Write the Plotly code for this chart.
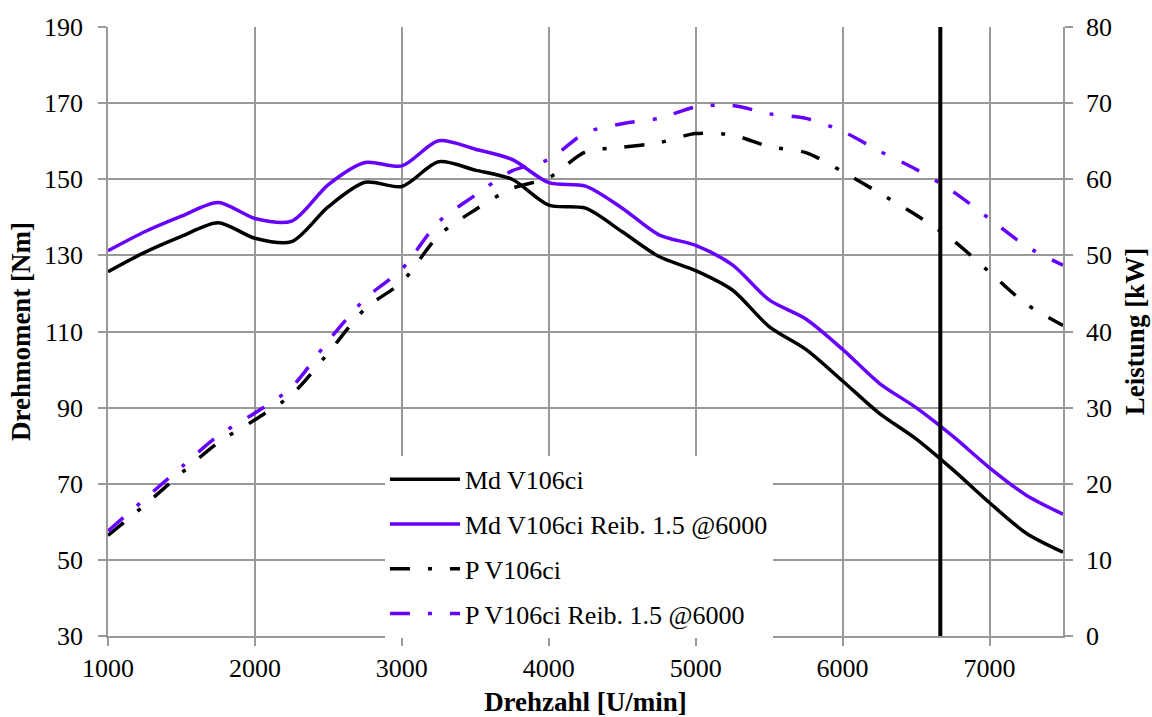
import plotly.graph_objects as go

rpm = [1000, 1250, 1500, 1750, 2000, 2250, 2500, 2750, 3000, 3250, 3500, 3750, 4000,
       4250, 4500, 4750, 5000, 5250, 5500, 5750, 6000, 6250, 6500, 6750, 7000, 7250, 7500]

md_v106 = [125.7, 130.8, 135.0, 138.6, 134.5, 133.6, 142.8, 149.2, 148.1, 154.6, 152.4, 150.0, 143.2,
           142.4, 136.2, 129.7, 126.0, 120.9, 111.3, 105.3, 97.0, 88.5, 81.8, 73.7, 65.0, 57.0, 52.0]
md_reib = [131.2, 136.2, 140.3, 143.9, 139.7, 139.0, 148.6, 154.4, 153.5, 160.1, 157.9, 155.2, 149.1,
           148.2, 142.4, 135.4, 132.6, 127.5, 118.3, 113.3, 105.3, 96.4, 90.0, 82.5, 74.2, 67.0, 62.0]
p_v106 = [13.2, 17.2, 21.4, 25.4, 28.4, 31.7, 37.2, 43.0, 46.5, 52.6, 56.0, 58.8, 60.2,
          63.6, 64.2, 64.8, 66.0, 65.8, 64.3, 63.5, 61.0, 58.2, 55.3, 52.0, 47.8, 43.6, 40.8]
p_reib = [13.8, 18.0, 22.2, 26.3, 29.3, 32.7, 38.8, 44.3, 48.2, 54.4, 57.9, 61.1, 62.6,
          66.1, 67.3, 68.0, 69.5, 69.7, 68.6, 68.0, 66.3, 63.7, 61.3, 58.4, 54.8, 51.2, 48.7]

names = ["Md V106ci", "Md V106ci Reib. 1.5 @6000", "P V106ci", "P V106ci Reib. 1.5 @6000"]
vline_rpm = 6665

BLACK = "#000000"
PURPLE = "#6600FF"
FONT = "Liberation Serif"
DASHDOT = "20px,18px,4px,18px"
FS = 26
TFS = 27

fig = go.Figure()
fig.add_trace(go.Scatter(x=rpm, y=md_v106, name=names[0], mode="lines", legendgroup="a",
                         line=dict(color=BLACK, width=3.5, shape="spline", smoothing=0.8)))
fig.add_trace(go.Scatter(x=rpm, y=md_reib, name=names[1], mode="lines", legendgroup="b",
                         line=dict(color=PURPLE, width=3.5, shape="spline", smoothing=0.8)))
fig.add_trace(go.Scatter(x=rpm, y=p_v106, name=names[2], mode="lines", yaxis="y2", legendgroup="c",
                         line=dict(color=BLACK, width=3.5, dash=DASHDOT, shape="spline", smoothing=0.8)))
fig.add_trace(go.Scatter(x=rpm, y=p_reib, name=names[3], mode="lines", yaxis="y2", legendgroup="d",
                         line=dict(color=PURPLE, width=3.5, dash=DASHDOT, shape="spline", smoothing=0.8)))

fig.add_shape(type="line", x0=vline_rpm, x1=vline_rpm, y0=0, y1=1, xref="x", yref="paper",
              line=dict(color=BLACK, width=4), layer="above")

GRID = "#999999"
fig.update_layout(
    width=1152, height=717,
    margin=dict(l=108, r=89, t=27, b=81),
    paper_bgcolor="white", plot_bgcolor="white",
    font=dict(family=FONT, size=FS, color="black"),
    showlegend=True,
    legend=dict(x=0.29, y=0.296, xanchor="left", yanchor="top", bgcolor="white",
                font=dict(family=FONT, size=FS, color="black"), tracegroupgap=8,
                traceorder="grouped", itemwidth=70),
    xaxis=dict(range=[1000, 7500], dtick=1000, tick0=1000, showgrid=True, gridcolor=GRID, gridwidth=1.5,
               showline=True, linecolor=GRID, linewidth=1.5, ticks="outside", ticklen=8, tickcolor=GRID,
               tickwidth=1.5, zeroline=False, automargin=False, tickfont=dict(size=FS),
               title=dict(text="<b>Drehzahl [U/min]</b>", font=dict(family=FONT, size=TFS), standoff=10)),
    yaxis=dict(range=[30, 190], dtick=20, tick0=30, showgrid=True, gridcolor=GRID, gridwidth=1.5,
               showline=True, linecolor=GRID, linewidth=1.5, ticks="outside", ticklen=8, tickcolor=GRID,
               tickwidth=1.5, zeroline=False, automargin=False, tickfont=dict(size=FS),
               ticklabelstandoff=10,
               title=dict(text="<b>Drehmoment [Nm]</b>", font=dict(family=FONT, size=TFS), standoff=6)),
    yaxis2=dict(range=[0, 80], dtick=10, overlaying="y", side="right", showgrid=False,
                showline=True, linecolor=GRID, linewidth=1.5, ticks="outside", ticklen=8, tickcolor=GRID,
                tickwidth=1.5, zeroline=False, automargin=False, tickfont=dict(size=FS),
                ticklabelstandoff=8,
                title=dict(text="<b>Leistung [kW]</b>", font=dict(family=FONT, size=TFS), standoff=14)),
)

fig.write_html("out.html")
